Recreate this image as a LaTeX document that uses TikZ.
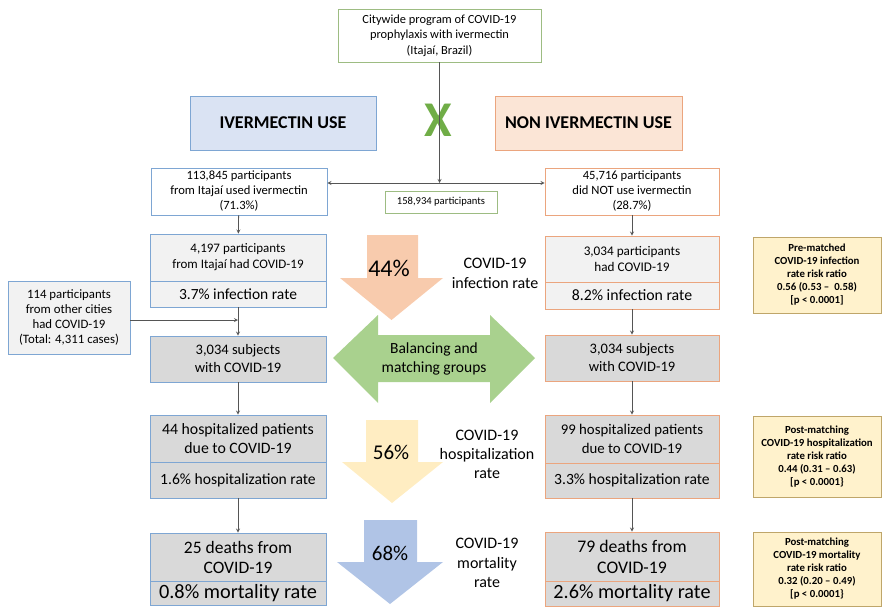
\documentclass[tikz,border=0pt]{standalone}
\usepackage{fontspec}
\setmainfont{Carlito}
\usepackage{tikz}
\usetikzlibrary{positioning}
\definecolor{blueedge}{HTML}{7EA6D3}
\definecolor{orangeedge}{HTML}{EBA57E}
\definecolor{greenedge}{HTML}{9DBC82}
\definecolor{goldedge}{HTML}{BFA66A}
\definecolor{bluefill}{HTML}{DAE3F3}
\definecolor{orangefill}{HTML}{FBE5D6}
\definecolor{lightgrey}{HTML}{F2F2F2}
\definecolor{midgrey}{HTML}{D9D9D9}
\definecolor{yellowfill}{HTML}{FFF2CC}
\definecolor{linegrey}{HTML}{555555}
\definecolor{arroworange}{HTML}{F8CBAD}
\definecolor{arrowgreen}{HTML}{A9D18E}
\definecolor{arrowyellow}{HTML}{FFEDC2}
\definecolor{arrowblue}{HTML}{B0C4E6}
\definecolor{xgreen}{HTML}{70AD47}
\newcommand\fs[2]{\fontsize{#1}{#2}\selectfont}
\tikzset{
  box/.style={rectangle, inner sep=0pt, align=center, line width=0.9pt},
  ivbox/.style={box, draw=blueedge, minimum width=176pt},
  nonbox/.style={box, draw=orangeedge, minimum width=174pt},
  rrbox/.style={box, draw=goldedge, fill=yellowfill, minimum width=128pt,
    font=\bfseries\fs{10.8}{13}},
  link/.style={draw=linegrey, line width=0.8pt, ->, >=stealth},
}

\begin{document}
\begin{tikzpicture}[x=1pt, y=-1pt]
  \useasboundingbox (0,0) rectangle (882,607);
  % top of the chart
  \node[box, draw=greenedge, minimum width=203pt, minimum height=53pt, font=\fs{12.4}{15.5}]
    (prog) at (439.5,35.5) {Citywide program of COVID-19\\prophylaxis with ivermectin\\(Itaja\'i, Brazil)};
  \node[box, draw=blueedge, fill=bluefill, minimum width=186pt, minimum height=54pt, font=\bfseries\fs{18}{20}]
    (ivuse) at (283,123) {IVERMECTIN USE};
  \node[box, draw=orangeedge, fill=orangefill, minimum width=187pt, minimum height=54pt, font=\bfseries\fs{18}{20}]
    (nonuse) at (588.5,123) {NON IVERMECTIN USE};
  \node[text=xgreen, font=\bfseries\fs{50}{50}] (cross) at (438,120) {X};
  \node[ivbox, fill=white, minimum height=47pt, font=\fs{12.6}{15}]
    (ivpart) at (239,191.5) {113,845 participants\\from Itaja\'i used ivermectin\\(71.3\%)};
  \node[box, draw=greenedge, minimum width=112pt, minimum height=22pt, font=\fs{10.6}{12}]
    (total) at (441,202) {158,934 participants};
  \node[nonbox, fill=white, minimum height=47pt, font=\fs{12.6}{15}]
    (nonpart) at (632,191.5) {45,716 participants\\did NOT use ivermectin\\(28.7\%)};
  \coordinate (split) at (prog.south |- 0,183);

  % ivermectin column
  \node[ivbox, fill=lightgrey, minimum height=47pt, font=\fs{13}{16}]
    (ivcov) at (238,257.5) {4,197 participants\\from Itaja\'i had COVID-19};
  \node[ivbox, fill=lightgrey, minimum height=26pt, font=\fs{15.5}{17}]
    (ivinf) at (238,294) {3.7\% infection rate};
  \node[box, draw=blueedge, fill=lightgrey, minimum width=122pt, minimum height=73pt, font=\fs{12.8}{15}]
    (other) at (69,317.5) {114 participants\\from other cities\\had COVID-19\\(Total: 4,311 cases)};
  \node[ivbox, fill=midgrey, minimum height=46pt, font=\fs{14.5}{18}]
    (ivmatch) at (238,359) {3,034 subjects\\with COVID-19};
  \node[ivbox, fill=midgrey, minimum height=47pt, font=\fs{15.8}{19}]
    (ivhosp) at (238,438.5) {44 hospitalized patients\\due to COVID-19};
  \node[ivbox, fill=midgrey, minimum height=36pt, font=\fs{15.6}{17}]
    (ivhrate) at (238,480) {1.6\% hospitalization rate};
  \node[ivbox, fill=midgrey, minimum height=48pt, font=\fs{17.5}{20}]
    (ivdeath) at (238,557) {25 deaths from\\COVID-19};
  \node[ivbox, fill=midgrey, minimum height=24pt, font=\fs{20.3}{21}]
    (ivmort) at (238,593) {0.8\% mortality rate};

  % non ivermectin column
  \node[nonbox, fill=lightgrey, minimum height=46pt, font=\fs{13.2}{16}]
    (noncov) at (632,259) {3,034 participants\\had COVID-19};
  \node[nonbox, fill=lightgrey, minimum height=27pt, font=\fs{15.8}{17}]
    (noninf) at (632,295.5) {8.2\% infection rate};
  \node[nonbox, fill=midgrey, minimum height=46pt, font=\fs{14.5}{18}]
    (nonmatch) at (632,358) {3,034 subjects\\with COVID-19};
  \node[nonbox, fill=midgrey, minimum height=48pt, font=\fs{14.8}{19}]
    (nonhosp) at (632,439) {99 hospitalized patients\\due to COVID-19};
  \node[nonbox, fill=midgrey, minimum height=35pt, font=\fs{15.6}{17}]
    (nonhrate) at (632,480.5) {3.3\% hospitalization rate};
  \node[nonbox, fill=midgrey, minimum height=49pt, font=\fs{17.7}{21}]
    (nondeath) at (632,556.5) {79 deaths from\\COVID-19};
  \node[nonbox, fill=midgrey, minimum height=25pt, font=\fs{20.2}{21}]
    (nonmort) at (632,593.5) {2.6\% mortality rate};

  % risk ratios
  \node[rrbox, minimum height=76pt] (rrinf) at (817,275)
    {Pre-matched\\COVID-19 infection\\rate risk ratio\\0.56 (0.53 \textendash\ \ 0.58)\\{[p < 0.0001]}};
  \node[rrbox, minimum height=81pt] (rrhosp) at (817,456.5)
    {Post-matching\\COVID-19 hospitalization\\rate risk ratio\\0.44 (0.31 \textendash\ 0.63)\\{[p < 0.0001\}}};
  \node[rrbox, minimum height=74pt] (rrmort) at (817,569)
    {Post-matching\\COVID-19 mortality\\rate risk ratio\\0.32 (0.20 \textendash\ 0.49)\\{[p < 0.0001\}}};

  % big arrows
  \fill[arroworange] (367,235) -- (418,235) -- (418,278) -- (443,278) -- (391.5,320)
    -- (340,278) -- (367,278) -- cycle;
  \fill[arrowgreen] (333,358) -- (378,315) -- (378,335) -- (490,335) -- (490,315) -- (535,358)
    -- (490,403) -- (490,382) -- (378,382) -- (378,403) -- cycle;
  \fill[arrowyellow] (366,420) -- (418,420) -- (418,462) -- (443,462) -- (392,503)
    -- (342,462) -- (366,462) -- cycle;
  \fill[arrowblue] (364,520) -- (417,520) -- (417,562) -- (443,562) -- (390,604)
    -- (337,562) -- (364,562) -- cycle;
  \node[font=\fs{24}{24}] (pinf) at (389,268) {44\%};
  \node[font=\fs{21}{22}] (phosp) at (391,452) {56\%};
  \node[font=\fs{21}{22}] (pmort) at (390,553) {68\%};
  \node[align=center, font=\fs{15.5}{19}] (balance) at (434,359) {Balancing and\\matching groups};
  \node[align=center, font=\fs{16}{20}] (linf) at (495,273) {COVID-19\\infection rate};
  \node[align=center, font=\fs{16}{19}] (lhosp) at (487,454) {COVID-19\\hospitalization\\rate};
  \node[align=center, font=\fs{16}{19.5}] (lmort) at (487,563) {COVID-19\\mortality\\rate};

  % connectors
  \draw[link] (prog.south) -- (split);
  \draw[link] (split) -- (split -| ivpart.east);
  \draw[link] (split) -- (split -| nonpart.west);
  \draw[link] (ivpart) -- (ivcov);
  \draw[link] (ivinf) -- (ivmatch);
  \draw[link] (other.east |- 0,320) -- (ivmatch.north |- 0,320);
  \draw[link] (ivmatch) -- (ivhosp);
  \draw[link] (ivhrate) -- (ivdeath);
  \draw[link] (nonpart) -- (noncov);
  \draw[link] (noninf) -- (nonmatch);
  \draw[link] (nonmatch) -- (nonhosp);
  \draw[link] (nonhrate) -- (nondeath);
\end{tikzpicture}
\end{document}
